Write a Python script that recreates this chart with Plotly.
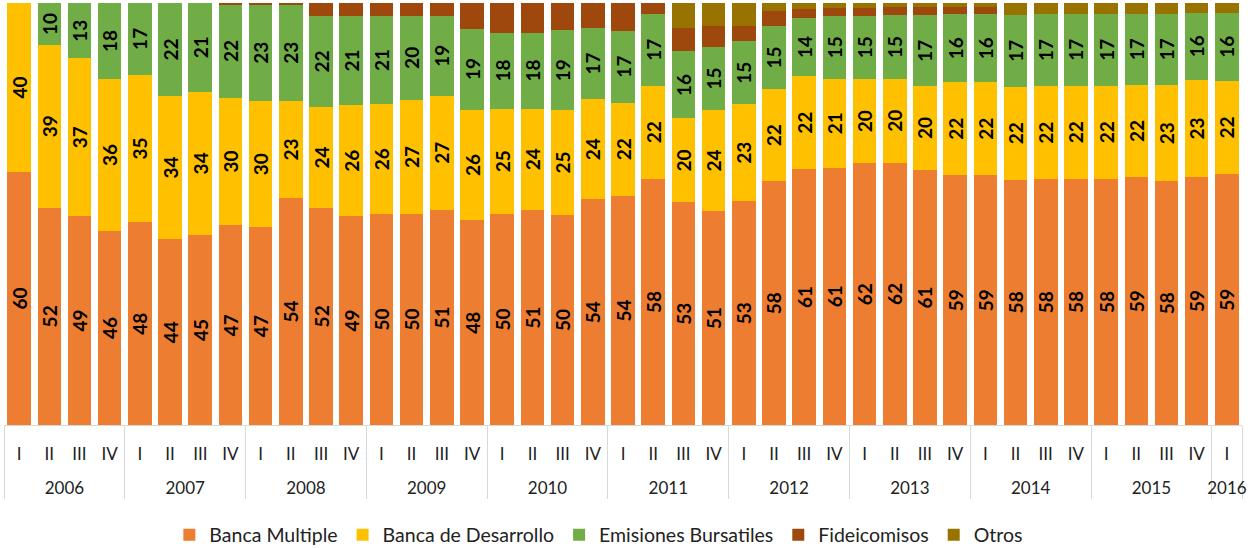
import plotly.graph_objects as go

# Categorias (año, trimestre)
years = ["2006"] * 4 + [str(y) for y in range(2007, 2016) for _ in range(4)] + ["2016"]
quarters = ["I", "II", "III", "IV"] * 10 + ["I"]

banca_multiple = [60, 52, 49, 46, 48, 44, 45, 47, 47, 54, 52, 49, 50, 50, 51, 48,
                  50, 51, 50, 54, 54, 58, 53, 51, 53, 58, 61, 61, 62, 62, 61, 59,
                  59, 58, 58, 58, 58, 59, 58, 59, 59]
banca_desarrollo = [40, 39, 37, 36, 35, 34, 34, 30, 30, 23, 24, 26, 26, 27, 27, 26,
                    25, 24, 25, 24, 22, 22, 20, 24, 23, 22, 22, 21, 20, 20, 20, 22,
                    22, 22, 22, 22, 22, 22, 23, 23, 22]
emisiones = [0, 10, 13, 18, 17, 22, 21, 22, 23, 23, 22, 21, 21, 20, 19, 19,
             18, 18, 19, 17, 17, 17, 16, 15, 15, 15, 14, 15, 15, 15, 17, 16,
             16, 17, 17, 17, 17, 17, 17, 16, 16]
fideicomisos = [0, 0, 0, 0, 0, 0, 0, 0.3, 0.3, 0.3, 3, 3, 3, 3, 3, 6,
                7, 7, 6.5, 6, 6.5, 2.5, 5.5, 5, 3.5, 3.5, 2, 1.7, 1.7, 1.9, 1.9, 1.7,
                1.7, 0, 0, 0, 0, 0, 0, 0, 0]
otros = [0] * 22 + [6, 5.5, 5.5, 2, 1.5, 1.3, 1.3, 1, 1, 1, 1,
                    2.8, 2.6, 2.5, 2.5, 2.5, 2.5, 2.3, 2.3]

series = [
    ("Banca Multiple", banca_multiple, "#ED7D31", True),
    ("Banca de Desarrollo", banca_desarrollo, "#FFC000", True),
    ("Emisiones Bursatiles", emisiones, "#70AD47", True),
    ("Fideicomisos", fideicomisos, "#9E480E", False),
    ("Otros", otros, "#997300", False),
]

FONT = "Lato, 'Open Sans', sans-serif"

# etiqueta de trimestre con una linea vacia (mas alta) debajo para separar el año
quarter_labels = [q + "<br><span style='font-size:31px'>\u00a0</span>" for q in quarters]

fig = go.Figure()
for name, vals, color, labels in series:
    text = [str(v) if (labels and v) else "" for v in vals]
    fig.add_trace(go.Bar(
        x=[years, quarter_labels],
        y=vals,
        name=name,
        marker=dict(color=color, line=dict(width=0)),
        text=text,
        textposition="inside",
        insidetextanchor="middle",
        textangle=-90,
        textfont=dict(family=FONT, size=19, color="black", weight="bold"),
        hoverinfo="skip",
    ))

fig.update_layout(
    barmode="stack",
    barnorm="percent",
    bargap=0.22,
    width=1259,
    height=548,
    margin=dict(l=4, r=17, t=3, b=123, autoexpand=False),
    paper_bgcolor="white",
    plot_bgcolor="white",
    font=dict(family=FONT, size=17, color="#222222"),
    uniformtext=dict(minsize=19, mode="show"),
    showlegend=True,
    legend=dict(orientation="h", x=0.4805, xanchor="center", y=-0.2607, yanchor="middle",
                bgcolor="rgba(0,0,0,0)",
                font=dict(size=19.5, color="#222222"), itemwidth=30,
                traceorder="normal"),
    xaxis=dict(
        type="multicategory",
        automargin=False,
        showline=True, linecolor="#d9d9d9", linewidth=1,
        showgrid=False, ticks="",
        showdividers=True, dividercolor="#d9d9d9", dividerwidth=1,
        ticklabelstandoff=14,
        tickfont=dict(size=17, color="#222222"),
    ),
    yaxis=dict(visible=False, range=[0, 100], fixedrange=True, automargin=False),
)

fig.write_html("out.html", config={"displayModeBar": False},
               post_script="document.body.style.margin='0';")
